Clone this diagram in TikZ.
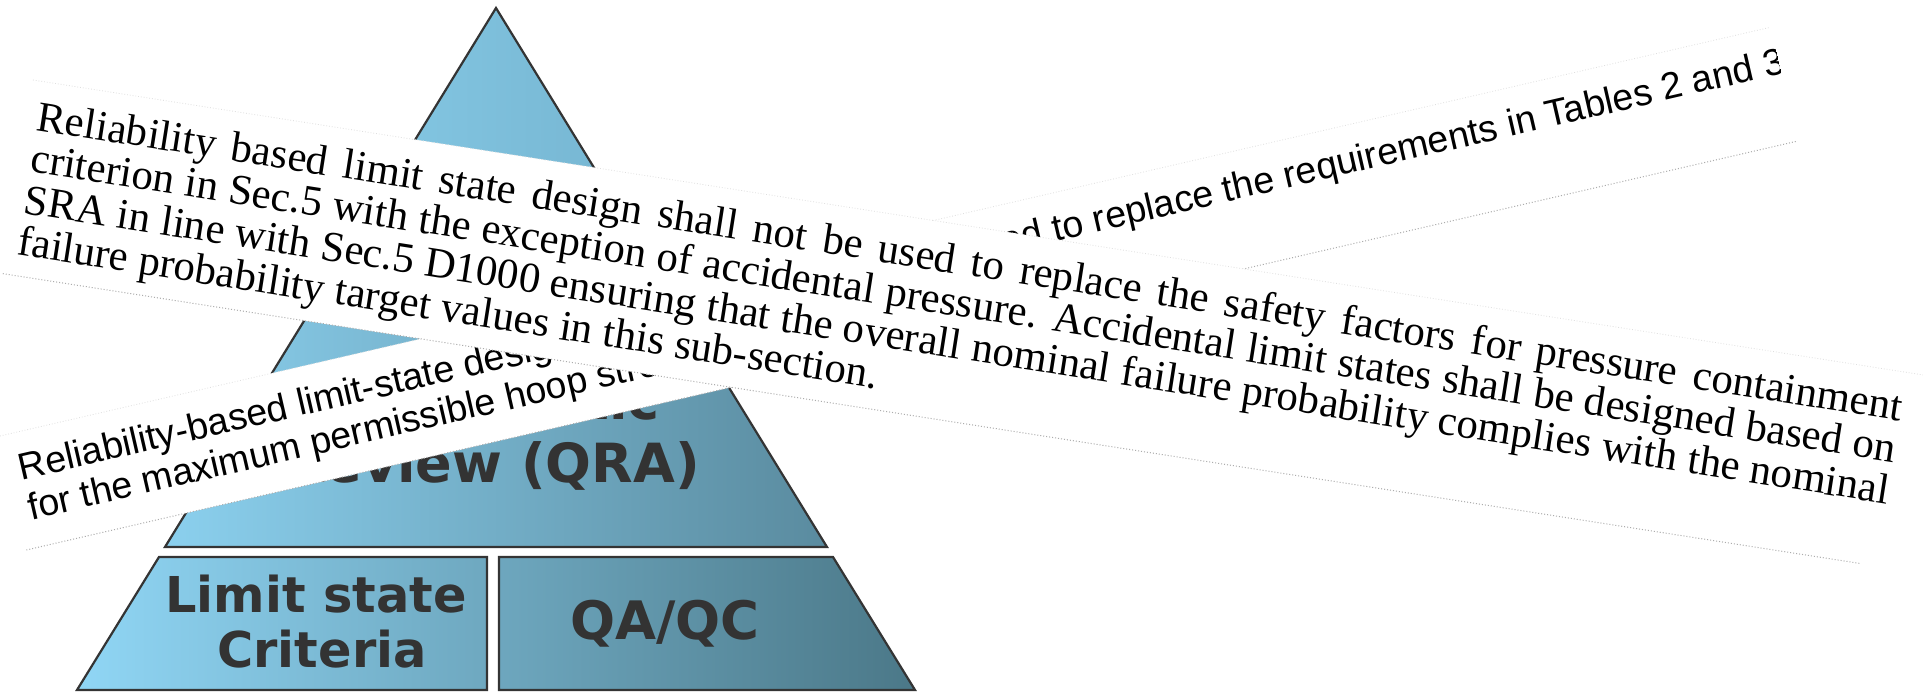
\documentclass[tikz,border=0pt]{standalone}
\usepackage{fontspec}
\setmainfont{Liberation Serif}
\newfontfamily\clausesans{Liberation Sans}
\newfontfamily\tierfont{DejaVu Sans}
\definecolor{tierink}{HTML}{333333}
\definecolor{tierline}{HTML}{343434}
\definecolor{topL}{HTML}{86CAE6}
\definecolor{topR}{HTML}{74B3CF}
\definecolor{midL}{HTML}{8BD0EE}
\definecolor{midR}{HTML}{5A8B9F}
\definecolor{botL}{HTML}{90D6F5}
\definecolor{botR}{HTML}{4B7888}

\begin{document}
\begin{tikzpicture}[
    x=0.5pt, y=-0.5pt,
    tier/.style={draw=tierline, line width=1.1pt},
    tierlabel/.style={anchor=base, inner sep=0pt, text=tierink, font=\tierfont\bfseries\fontsize{24.7}{29}\selectfont},
    midlabel/.style={tierlabel, font=\tierfont\bfseries\fontsize{27}{32}\selectfont},
    edgefaint/.style={draw=gray!25, densely dotted, line width=0.4pt},
    edgecut/.style={draw=gray!65, densely dotted, line width=0.5pt},
    serifline/.style={anchor=base west, inner sep=0pt, transform shape, font=\fontsize{21.4}{21}\selectfont},
    sansline/.style={anchor=base west, inner sep=0pt, transform shape, font=\clausesans\fontsize{18.75}{20}\selectfont}
]

   \fill[white] (0,0) rectangle (1923,694);
   \useasboundingbox (0,0) rectangle (1923,694);

   % Pyramid tiers
   \path[tier, left color=topL, right color=topR] (496,8) -- (666,285) -- (326,285) -- cycle;
   \path[tier, left color=midL, right color=midR] (320,295) -- (672,295) -- (827,547) -- (165,547) -- cycle;
   \shade[left color=botL, right color=botR] (159,557) -- (833,557) -- (915,690) -- (77,690) -- cycle;
   \fill[white] (487,550) rectangle (499,697);
   \draw[tier] (159,557) -- (487,557) -- (487,690) -- (77,690) -- cycle;
   \draw[tier] (499,557) -- (833,557) -- (915,690) -- (499,690) -- cycle;

   % Tier labels
   \node[midlabel] (qra1) at (491,420) {Systematic};
   \node[midlabel] (qra2) at (492,483) {Review (QRA)};
   \node[tierlabel] (lsc1) at (316,613) {Limit state};
   \node[tierlabel] (lsc2) at (322,668) {Criteria};
   \node[tierlabel, font=\tierfont\bfseries\fontsize{26.5}{30}\selectfont] (qaqc) at (665,640) {QA/QC};

   % Sans clause strip
   \begin{scope}[shift={(0,436)}, rotate=13]
      \fill[white] (0,0) rectangle (1817,117);
      \draw[edgefaint] (0,0) -- (1817,0);
      \draw[edgecut] (0,117) -- (1817,117);
      \begin{scope}
         \clip (0,0) rectangle (1817,117);
         \node[sansline] (sa1) at (11,48) {\makebox[905.5pt][l]{Reliability-based limit-state design shall\hfill not be used to replace the requirements in Tables 2 and 3}};
         \node[sansline] (sa2) at (11,89) {for the maximum permissible hoop stress.};
      \end{scope}
   \end{scope}

   % Serif clause strip
   \begin{scope}[shift={(33,80)}, rotate=-8.87]
      \fill[white] (0,0) rectangle (1915,196);
      \draw[edgefaint] (0,0) -- (1915,0);
      \draw[edgecut] (0,196) -- (1880,196);
      \node[serifline] (se1) at (10,49) {\makebox[943.5pt][s]{Reliability based limit state design shall not be used to replace the safety factors for pressure containment}};
      \node[serifline] (se2) at (10,91) {\makebox[943.5pt][s]{criterion in Sec.5 with the exception of accidental pressure. Accidental limit states shall be designed based on}};
      \node[serifline] (se3) at (10,133) {\makebox[943.5pt][s]{SRA in line with Sec.5 D1000 ensuring that the overall nominal failure probability complies with the nominal}};
      \node[serifline] (se4) at (10,175) {failure probability target values in this sub-section.};
   \end{scope}
\end{tikzpicture}
\end{document}
